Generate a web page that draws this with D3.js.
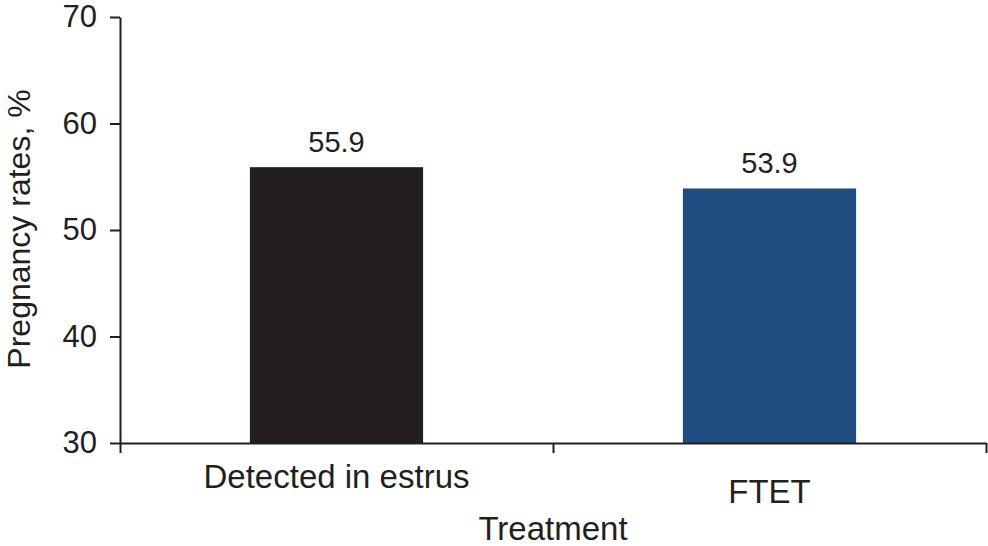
<!DOCTYPE html>
<html>
<head>
<meta charset="utf-8">
<script src="https://cdn.jsdelivr.net/npm/d3@7"></script>
<style>
    body { margin: 0; background: #fff; }
    svg text { font-family: "Liberation Sans", Arial, Helvetica, sans-serif; fill: #231f20; }
</style>
</head>
<body>
<div id="chart"></div>
<script>
// bar chart: pregnancy rates by treatment

const categories = ["Detected in estrus", "FTET"];
const rates = [55.9, 53.9];
const barColors = ["#231f20", "#1e4c7e"];
const yTicks = [30, 40, 50, 60, 70];

const width = 988, height = 546;
const margin = { top: 17, right: 2, bottom: 103, left: 120 };

let svg = d3.select("#chart").
append("svg").
attr("width", width).
attr("height", height);

let xScale = d3.scaleBand().
domain(categories).
range([margin.left, width - margin.right]).
paddingInner(0.6).
paddingOuter(0.3);

let yScale = d3.scaleLinear().
domain([30, 70]).
range([height - margin.bottom, margin.top]);

// boundary ticks of the x axis sit between the bands
let edgeScale = d3.scaleLinear().
domain([0, categories.length]).
range(xScale.range());

// bars
svg.selectAll(".bar").
data(categories).
enter().
append("rect").
attr("class", "bar").
attr("x", d => xScale(d)).
attr("y", (d, i) => yScale(rates[i])).
attr("width", xScale.bandwidth()).
attr("height", (d, i) => yScale(30) - yScale(rates[i])).
style("fill", (d, i) => barColors[i]);

// value labels
svg.selectAll(".value").
data(categories).
enter().
append("text").
attr("class", "value").
attr("x", d => xScale(d) + xScale.bandwidth() / 2).
attr("y", (d, i) => yScale(rates[i]) - 15).
attr("text-anchor", "middle").
style("font-size", "29px").
text((d, i) => rates[i].toFixed(1));

// y axis
let yAxis = svg.append("g").
attr("transform", "translate(" + margin.left + ",0)").
call(d3.axisLeft(yScale).tickValues(yTicks).tickSize(10).tickSizeOuter(0).tickPadding(13));

yAxis.select(".domain").attr("stroke", "#231f20").attr("stroke-width", 2);
yAxis.selectAll(".tick line").attr("stroke", "#231f20").attr("stroke-width", 2);
yAxis.selectAll(".tick text").
style("font-size", "31px").
attr("font-family", null);

// x axis
let xAxis = svg.append("g").
attr("transform", "translate(0," + yScale(30) + ")").
call(d3.axisBottom(edgeScale).ticks(categories.length).tickSize(10).tickSizeOuter(0).tickFormat(""));

xAxis.select(".domain").attr("stroke", "#231f20").attr("stroke-width", 2);
xAxis.selectAll(".tick line").attr("stroke", "#231f20").attr("stroke-width", 2);

// category labels, staggered
svg.selectAll(".cat").
data(categories).
enter().
append("text").
attr("class", "cat").
attr("x", d => xScale(d) + xScale.bandwidth() / 2).
attr("y", (d, i) => yScale(30) + 45 + i * 15).
attr("text-anchor", "middle").
style("font-size", "33px").
text(d => d);

// axis titles
svg.append("text").
attr("x", (margin.left + width - margin.right) / 2).
attr("y", height - 6).
attr("text-anchor", "middle").
style("font-size", "33px").
text("Treatment");

svg.append("text").
attr("transform", "translate(30," + 229 + ") rotate(-90)").
attr("text-anchor", "middle").
style("font-size", "32px").
text("Pregnancy rates, %");
</script>
</body>
</html>
